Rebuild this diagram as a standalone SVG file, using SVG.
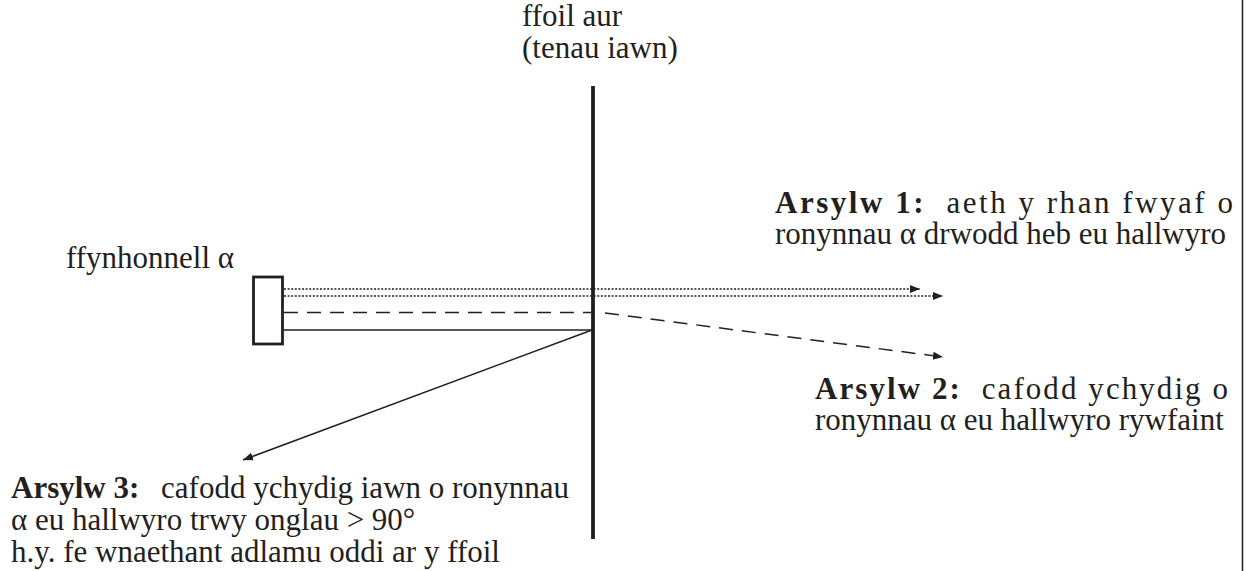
<svg xmlns="http://www.w3.org/2000/svg" width="1247" height="571" viewBox="0 0 1247 571">
<style>
.t{font-family:'Liberation Serif','Times New Roman',serif;font-size:31px;fill:#231f20}
.b{font-weight:bold}
.ln{stroke:#231f20;fill:none;stroke-width:1.5}
.dot{stroke-dasharray:2,1.6}
.dash{stroke-dasharray:14,9}
</style>
<defs>
<marker id="ah" viewBox="0 0 10 10" refX="10" refY="5" markerWidth="10" markerHeight="10" markerUnits="userSpaceOnUse" orient="auto"><path d="M0,1 L10,5 L0,9 z" fill="#231f20"/></marker>
</defs>
<rect width="1247" height="571" fill="#fff"/>
<line x1="1242.5" y1="0" x2="1242.5" y2="571" stroke="#231f20" stroke-width="1.5"/>
<g id="foil">
<line x1="593" y1="86" x2="593" y2="539" stroke="#231f20" stroke-width="3.8"/>
<text class="t" x="522" y="26">ffoil aur</text>
<text class="t" x="522" y="58">(tenau iawn)</text>
</g>
<g id="source">
<rect x="253.5" y="277" width="29" height="67" fill="#fff" stroke="#231f20" stroke-width="2.8"/>
<text class="t" x="66" y="268">ffynhonnell α</text>
</g>
<g id="connectors">
<line class="ln dot" x1="284" y1="289" x2="920" y2="289" marker-end="url(#ah)"/>
<line class="ln dot" x1="284" y1="296" x2="943" y2="296" marker-end="url(#ah)"/>
<line class="ln dash" x1="284" y1="312.5" x2="591" y2="312.5"/>
<line class="ln dash" x1="605" y1="313" x2="943" y2="357" marker-end="url(#ah)"/>
<line class="ln" x1="284" y1="330" x2="592" y2="330"/>
<line class="ln" x1="592" y1="330" x2="243" y2="460" marker-end="url(#ah)"/>
</g>
<g id="obs1">
<text class="t" x="775" y="213" textLength="458" lengthAdjust="spacing"><tspan class="b">Arsylw 1:</tspan><tspan dx="10"> aeth y rhan fwyaf o</tspan></text>
<text class="t" x="775" y="244">ronynnau α drwodd heb eu hallwyro</text>
</g>
<g id="obs2">
<text class="t" x="815" y="399" textLength="413" lengthAdjust="spacing"><tspan class="b">Arsylw 2:</tspan><tspan dx="10"> cafodd ychydig o</tspan></text>
<text class="t" x="815" y="430">ronynnau α eu hallwyro rywfaint</text>
</g>
<g id="obs3">
<text class="t" x="11" y="498"><tspan class="b">Arsylw 3:</tspan><tspan dx="14"> cafodd ychydig iawn o ronynnau</tspan></text>
<text class="t" x="11" y="530">α eu hallwyro trwy onglau &gt; 90°</text>
<text class="t" x="11" y="562">h.y. fe wnaethant adlamu oddi ar y ffoil</text>
</g>
</svg>
